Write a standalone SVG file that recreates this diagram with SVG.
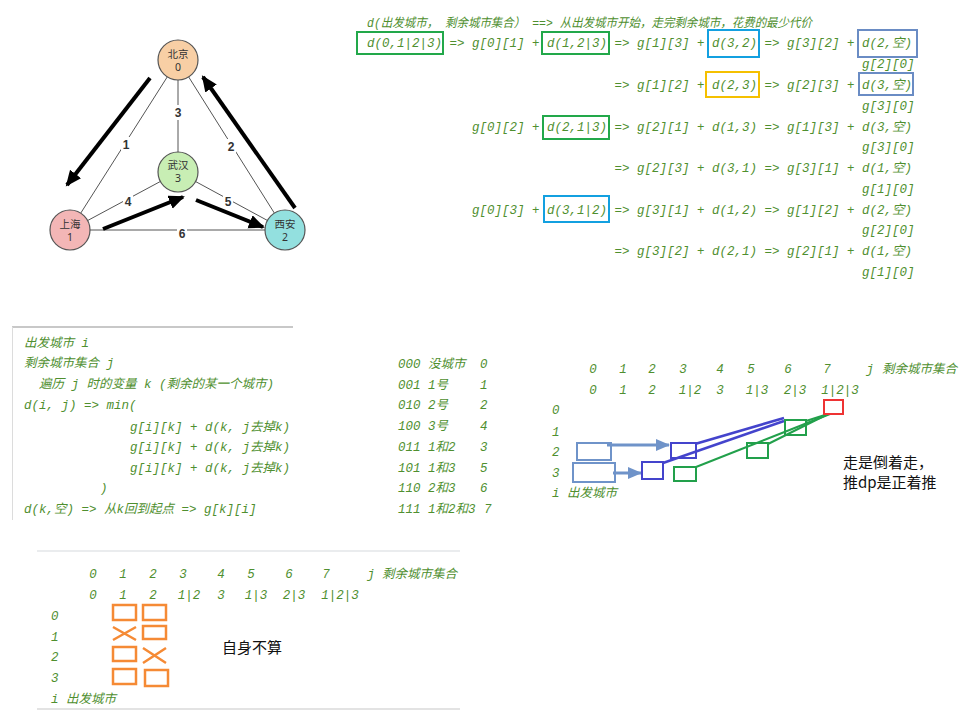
<svg xmlns="http://www.w3.org/2000/svg" width="963" height="720" viewBox="0 0 963 720">
<style>
.c{font-family:"Liberation Mono","Noto Sans CJK SC",monospace;font-style:italic;font-size:12.5px;fill:#4f8f2f}
.m{text-anchor:middle}
.node{stroke:#555;stroke-width:1.2}
.nl{font-family:"Noto Sans","Noto Sans CJK SC",sans-serif;font-size:10.5px;fill:#333;text-anchor:middle}
.el{font-family:"Liberation Sans","Noto Sans CJK SC",sans-serif;font-size:12px;font-weight:bold;fill:#333;text-anchor:middle}
.edge{stroke:#555;stroke-width:1;fill:none}
.thick{stroke:#000;stroke-width:4;fill:none;marker-end:url(#ah)}
.bx{fill:none;stroke-width:2}
.g{stroke:#22a84a}.b{stroke:#13a0e0}.y{stroke:#f5c000}.s{stroke:#6a8cc4}
.o{fill:none;stroke:#f58a35;stroke-width:2.5}
.k{font-family:"Noto Sans CJK SC","Noto Sans",sans-serif;font-size:15px;fill:#111}
</style>
<defs>
<marker id="ah" markerUnits="userSpaceOnUse" markerWidth="18" markerHeight="16" refX="14" refY="7" orient="auto">
<path d="M0,0 L16,7 L0,14 Z" fill="#000"/>
</marker>
<marker id="ahb" markerUnits="userSpaceOnUse" markerWidth="16" markerHeight="14" refX="13" refY="6" orient="auto">
<path d="M0,0 L14,6 L0,12 Z" fill="#6f93c9"/>
</marker>
</defs>
<rect width="963" height="720" fill="#fff"/>

<!-- graph connectors -->
<g id="connectors">
<line class="edge" x1="178" y1="60" x2="70" y2="230"/>
<line class="edge" x1="178" y1="60" x2="178" y2="172"/>
<line class="edge" x1="178" y1="60" x2="285" y2="230"/>
<line class="edge" x1="70" y1="230" x2="178" y2="172"/>
<line class="edge" x1="178" y1="172" x2="285" y2="230"/>
<line class="edge" x1="70" y1="230" x2="285" y2="230"/>
<g>
<rect x="121" y="137" width="10" height="15" fill="#fff"/><text class="el" x="126" y="149">1</text>
<rect x="173" y="105" width="10" height="15" fill="#fff"/><text class="el" x="178" y="117">3</text>
<rect x="226" y="139" width="10" height="15" fill="#fff"/><text class="el" x="231" y="151">2</text>
<rect x="123" y="194" width="10" height="15" fill="#fff"/><text class="el" x="128" y="206">4</text>
<rect x="223" y="194" width="10" height="15" fill="#fff"/><text class="el" x="228" y="206">5</text>
<rect x="177" y="226" width="10" height="15" fill="#fff"/><text class="el" x="182" y="238">6</text>
</g>
<line class="thick" x1="150" y1="78" x2="67" y2="185"/>
<line class="thick" x1="103" y1="229" x2="183" y2="197"/>
<line class="thick" x1="196" y1="200" x2="263" y2="227"/>
<line class="thick" x1="295" y1="208" x2="203" y2="77"/>
</g>

<g id="n-beijing"><circle class="node" cx="178" cy="60" r="20" fill="#f8cfa5"/><text class="nl" x="178" y="58">北京</text><text class="nl" x="178" y="71">0</text></g>
<g id="n-wuhan"><circle class="node" cx="178" cy="172" r="20" fill="#c8eeb4"/><text class="nl" x="178" y="169">武汉</text><text class="nl" x="178" y="182">3</text></g>
<g id="n-shanghai"><circle class="node" cx="70" cy="230" r="20" fill="#f3b6b6"/><text class="nl" x="70" y="228">上海</text><text class="nl" x="70" y="241">1</text></g>
<g id="n-xian"><circle class="node" cx="285" cy="230" r="20" fill="#93e0df"/><text class="nl" x="285" y="228">西安</text><text class="nl" x="285" y="241">2</text></g>

<!-- top right recursion -->
<g id="recursion">
<text class="c" x="367" y="27" textLength="445" lengthAdjust="spacingAndGlyphs">d(出发城市， 剩余城市集合） ==> 从出发城市开始，走完剩余城市，花费的最少代价</text>
<text class="c" x="367" y="47">d(0,1|2|3) =&gt; g[0][1] + d(1,2|3) =&gt; g[1][3] + d(3,2) =&gt; g[3][2] + d(2,空)</text>
<text class="c" x="862" y="68">g[2][0]</text>
<text class="c" x="614.5" y="89">=&gt; g[1][2] + d(2,3) =&gt; g[2][3] + d(3,空)</text>
<text class="c" x="862" y="110">g[3][0]</text>
<text class="c" x="472" y="131">g[0][2] + d(2,1|3) =&gt; g[2][1] + d(1,3) =&gt; g[1][3] + d(3,空)</text>
<text class="c" x="862" y="151">g[3][0]</text>
<text class="c" x="614.5" y="172">=&gt; g[2][3] + d(3,1) =&gt; g[3][1] + d(1,空)</text>
<text class="c" x="862" y="193">g[1][0]</text>
<text class="c" x="472" y="214">g[0][3] + d(3,1|2) =&gt; g[3][1] + d(1,2) =&gt; g[1][2] + d(2,空)</text>
<text class="c" x="862" y="234">g[2][0]</text>
<text class="c" x="614.5" y="255">=&gt; g[3][2] + d(2,1) =&gt; g[2][1] + d(1,空)</text>
<text class="c" x="862" y="276">g[1][0]</text>
<rect class="bx g" x="357" y="32" width="86" height="22"/>
<rect class="bx g" x="542" y="32" width="67" height="22"/>
<rect class="bx b" x="708" y="30" width="51" height="27"/>
<rect class="bx s" x="858" y="30" width="59" height="27"/>
<rect class="bx y" x="706" y="72" width="53" height="25"/>
<rect class="bx s" x="859" y="73" width="54" height="22"/>
<rect class="bx g" x="543" y="116" width="66" height="23"/>
<rect class="bx b" x="544" y="196" width="65" height="26"/>
</g>

<!-- middle-left definition -->
<g id="definition">
<line x1="12" y1="327" x2="293" y2="327" stroke="#c8c8c8" stroke-width="2"/>
<line x1="12.5" y1="327" x2="12.5" y2="520" stroke="#dcdcdc" stroke-width="1"/>
<text class="c" x="24" y="347">出发城市 i</text>
<text class="c" x="24" y="367">剩余城市集合 j</text>
<text class="c" x="39" y="388">遍历 j 时的变量 k  (剩余的某一个城市)</text>
<text class="c" x="24" y="409">d(i, j) =&gt; min(</text>
<text class="c" x="130" y="431">g[i][k] + d(k, j去掉k)</text>
<text class="c" x="130" y="451">g[i][k] + d(k, j去掉k)</text>
<text class="c" x="130" y="472">g[i][k] + d(k, j去掉k)</text>
<text class="c" x="100" y="492">)</text>
<text class="c" x="24" y="513">d(k,空) =&gt; 从k回到起点 =&gt; g[k][i]</text>
</g>

<!-- binary list -->
<g id="binary">
<text class="c" x="398" y="368">000</text><text class="c" x="428" y="368">没城市</text><text class="c" x="480" y="368">0</text>
<text class="c" x="398" y="389">001</text><text class="c" x="428" y="389">1号</text><text class="c" x="480" y="389">1</text>
<text class="c" x="398" y="409">010</text><text class="c" x="428" y="409">2号</text><text class="c" x="480" y="409">2</text>
<text class="c" x="398" y="430">100</text><text class="c" x="428" y="430">3号</text><text class="c" x="480" y="430">4</text>
<text class="c" x="398" y="451">011</text><text class="c" x="428" y="451">1和2</text><text class="c" x="480" y="451">3</text>
<text class="c" x="398" y="472">101</text><text class="c" x="428" y="472">1和3</text><text class="c" x="480" y="472">5</text>
<text class="c" x="398" y="492">110</text><text class="c" x="428" y="492">2和3</text><text class="c" x="480" y="492">6</text>
<text class="c" x="398" y="513">111</text><text class="c" x="428" y="513">1和2和3</text><text class="c" x="484" y="513">7</text>
</g>

<!-- middle-right dp table -->
<g id="dp-table">
<text class="c m" x="593" y="373">0</text><text class="c m" x="623" y="373">1</text><text class="c m" x="652" y="373">2</text><text class="c m" x="683" y="373">3</text><text class="c m" x="720" y="373">4</text><text class="c m" x="751" y="373">5</text><text class="c m" x="788" y="373">6</text><text class="c m" x="827" y="373">7</text><text class="c m" x="870" y="373">j</text><text class="c" x="882" y="373">剩余城市集合</text>
<text class="c m" x="593" y="394">0</text><text class="c m" x="623" y="394">1</text><text class="c m" x="652" y="394">2</text><text class="c m" x="690" y="394">1|2</text><text class="c m" x="720" y="394">3</text><text class="c m" x="757" y="394">1|3</text><text class="c m" x="795" y="394">2|3</text><text class="c m" x="840" y="394">1|2|3</text>
<text class="c" x="552" y="414">0</text>
<text class="c" x="552" y="436">1</text>
<text class="c" x="552" y="456">2</text>
<text class="c" x="552" y="477">3</text>
<text class="c" x="552" y="497">i 出发城市</text>
<rect x="577" y="443" width="34" height="17" fill="none" stroke="#6f93c9" stroke-width="2"/>
<rect x="573" y="463" width="42" height="19" fill="none" stroke="#6f93c9" stroke-width="2"/>
<line x1="607" y1="445" x2="669" y2="445" stroke="#6f93c9" stroke-width="3" marker-end="url(#ahb)"/>
<line x1="613" y1="473" x2="641" y2="473" stroke="#6f93c9" stroke-width="3" marker-end="url(#ahb)"/>
<rect x="671" y="443" width="25" height="15" fill="none" stroke="#4444cc" stroke-width="2"/>
<rect x="642" y="462" width="21" height="17" fill="none" stroke="#4444cc" stroke-width="2"/>
<line x1="784" y1="418" x2="695" y2="444" stroke="#4444cc" stroke-width="2.5"/>
<line x1="784" y1="421" x2="663" y2="463" stroke="#4444cc" stroke-width="2.5"/>
<rect x="785" y="420" width="21" height="15" fill="none" stroke="#22a04b" stroke-width="2"/>
<rect x="747" y="443" width="21" height="15" fill="none" stroke="#22a04b" stroke-width="2"/>
<rect x="674" y="467" width="22" height="14" fill="none" stroke="#22a04b" stroke-width="2"/>
<line x1="828" y1="414" x2="806" y2="421" stroke="#22a04b" stroke-width="2"/>
<line x1="828" y1="414" x2="768" y2="444" stroke="#22a04b" stroke-width="2"/>
<line x1="830" y1="414" x2="696" y2="467" stroke="#22a04b" stroke-width="2"/>
<rect x="824" y="400" width="19" height="14" fill="none" stroke="#ee3333" stroke-width="2"/>
<text class="k" x="843" y="468">走是倒着走，</text>
<text class="k" x="843" y="488">推dp是正着推</text>
</g>

<!-- bottom table -->
<g id="self-table">
<line x1="37" y1="551" x2="460" y2="551" stroke="#d5d9de" stroke-width="1.2"/>
<line x1="37" y1="709" x2="460" y2="709" stroke="#c8c8c8" stroke-width="1.2"/>
<text class="c m" x="93" y="578">0</text><text class="c m" x="123" y="578">1</text><text class="c m" x="153" y="578">2</text><text class="c m" x="183" y="578">3</text><text class="c m" x="221" y="578">4</text><text class="c m" x="251" y="578">5</text><text class="c m" x="289" y="578">6</text><text class="c m" x="326" y="578">7</text><text class="c m" x="371" y="578">j</text><text class="c" x="382" y="578">剩余城市集合</text>
<text class="c m" x="93" y="599">0</text><text class="c m" x="123" y="599">1</text><text class="c m" x="153" y="599">2</text><text class="c m" x="189" y="599">1|2</text><text class="c m" x="221" y="599">3</text><text class="c m" x="256" y="599">1|3</text><text class="c m" x="294" y="599">2|3</text><text class="c m" x="340" y="599">1|2|3</text>
<text class="c" x="51" y="620">0</text>
<text class="c" x="51" y="641">1</text>
<text class="c" x="51" y="661">2</text>
<text class="c" x="51" y="682">3</text>
<text class="c" x="51" y="703">i 出发城市</text>
<rect class="o" x="113" y="605" width="23" height="15"/>
<rect class="o" x="143" y="605" width="23" height="15"/>
<path class="o" d="M113,627 L136,640 M136,627 L113,640"/>
<rect class="o" x="143" y="626" width="23" height="13"/>
<rect class="o" x="113" y="647" width="23" height="14"/>
<path class="o" d="M143,648 L166,663 M166,648 L143,663"/>
<rect class="o" x="113" y="669" width="23" height="15"/>
<rect class="o" x="145" y="670" width="23" height="16"/>
<text class="k" x="222" y="653">自身不算</text>
</g>
</svg>
